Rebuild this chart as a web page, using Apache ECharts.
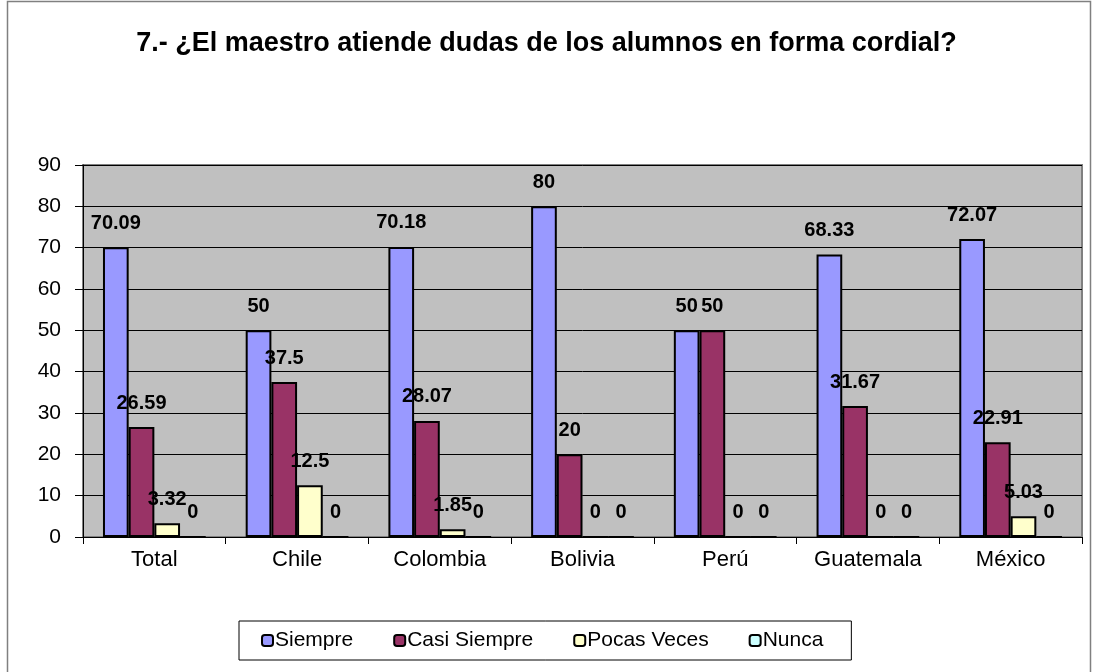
<!DOCTYPE html>
<html>
<head>
<meta charset="utf-8">
<script src="https://cdn.jsdelivr.net/npm/echarts@6/dist/echarts.min.js"></script>
<style>
  html, body { margin: 0; padding: 0; background: #fff; }
  #chart { width: 1093px; height: 672px; }
</style>
</head>
<body>
<div id="chart"></div>
<script>
// datos del gráfico
var categorias = ['Total', 'Chile', 'Colombia', 'Bolivia', 'Perú', 'Guatemala', 'México'];
var siempre = [70.09, 50, 70.18, 80, 50, 68.33, 72.07];
var casiSiempre = [26.59, 37.5, 28.07, 20, 50, 31.67, 22.91];
var pocasVeces = [3.32, 12.5, 1.85, 0, 0, 0, 5.03];
var nunca = [0, 0, 0, 0, 0, 0, 0];
var nombres = ['Siempre', 'Casi Siempre', 'Pocas Veces', 'Nunca'];
var colores = ['#9999FF', '#993366', '#FFFFCC', '#CCFFFF'];

var fuente = '"Liberation Sans", Arial, sans-serif';

function serie(nombre, datos, color) {
  return {
    name: nombre,
    type: 'bar',
    data: datos,
    barGap: '0%',
    barCategoryGap: '28%',
    itemStyle: { color: color, borderColor: '#000', borderWidth: 2 },
    label: {
      show: true,
      position: 'top',
      distance: 14,
      color: '#000',
      fontWeight: 'bold',
      fontSize: 20,
      fontFamily: fuente
    }
  };
}

var dom = document.getElementById('chart');
var myChart = echarts.init(dom);
var option = {
  animation: false,
  backgroundColor: '#fff',
  color: colores,
  textStyle: { fontFamily: fuente },
  title: {
    text: '7.- ¿El maestro atiende dudas de los alumnos en forma cordial?',
    left: 'center',
    top: 25,
    textStyle: { fontSize: 27, fontWeight: 'bold', color: '#000', fontFamily: fuente }
  },
  graphic: [{
    type: 'rect',
    shape: { x: 7.5, y: 1.5, width: 1083, height: 680 },
    style: { fill: 'none', stroke: '#808080', lineWidth: 1.5 },
    silent: true
  }],
  legend: {
    data: nombres,
    left: 239,
    top: 621,
    padding: [9, 28, 9, 22],
    itemGap: 40,
    itemWidth: 11,
    itemHeight: 11,
    backgroundColor: '#fff',
    borderColor: '#000',
    borderWidth: 1,
    textStyle: { fontSize: 21, color: '#000', fontFamily: fuente, padding: [0, 0, 0, -3] }
  },
  grid: {
    left: 83,
    right: 11,
    top: 165,
    bottom: 135,
    show: true,
    backgroundColor: '#C0C0C0',
    borderColor: '#808080',
    borderWidth: 2
  },
  xAxis: {
    type: 'category',
    data: categorias,
    axisLine: { lineStyle: { color: '#000', width: 1 } },
    axisTick: { show: true, length: 7, lineStyle: { color: '#000' } },
    axisLabel: { fontSize: 22, color: '#000', margin: 12, fontFamily: fuente }
  },
  yAxis: {
    type: 'value',
    min: 0,
    max: 90,
    interval: 10,
    axisLine: { show: true, lineStyle: { color: '#000', width: 1 } },
    axisTick: { show: true, length: 8, lineStyle: { color: '#000' } },
    axisLabel: { fontSize: 21, color: '#000', margin: 22, fontFamily: fuente },
    splitLine: { show: true, lineStyle: { color: '#000', width: 1 } }
  },
  series: [
    serie(nombres[0], siempre, colores[0]),
    serie(nombres[1], casiSiempre, colores[1]),
    serie(nombres[2], pocasVeces, colores[2]),
    serie(nombres[3], nunca, colores[3])
  ]
};
myChart.setOption(option, true);
</script>
</body>
</html>
